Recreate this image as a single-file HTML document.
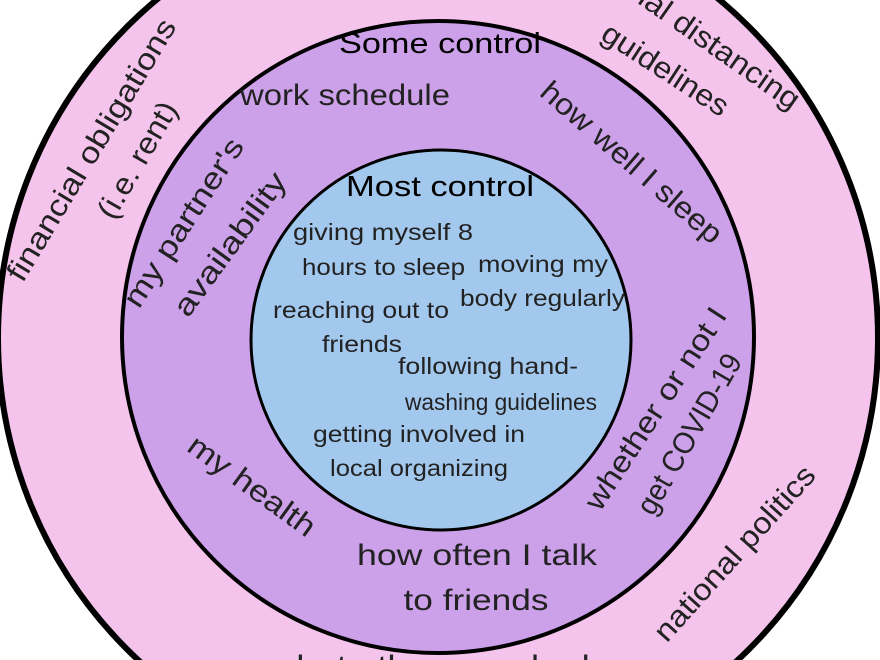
<!DOCTYPE html>
<html><head><meta charset="utf-8"><style>html,body{margin:0;padding:0;background:#fff;width:880px;height:660px;overflow:hidden}svg{display:block}</style></head>
<body>
<svg width="880" height="660" viewBox="0 0 880 660" xmlns="http://www.w3.org/2000/svg" font-family="Liberation Sans, sans-serif" fill="#222" overflow="hidden">
<circle cx="438" cy="338" r="440" fill="#f5c4ec" stroke="#000" stroke-width="6"/>
<circle cx="438" cy="337" r="316" fill="#cda1ea" stroke="#000" stroke-width="4"/>
<circle cx="441" cy="340" r="190" fill="#a3c8ee" stroke="#000" stroke-width="3"/>
<g fill="#000" font-size="29" text-anchor="middle">
<text x="440" y="53" textLength="202" lengthAdjust="spacingAndGlyphs">Some control</text>
<text x="440" y="196" textLength="188" lengthAdjust="spacingAndGlyphs">Most control</text>
</g>
<g font-size="30" text-anchor="middle" fill="#222">
<text x="345" y="105" textLength="210" lengthAdjust="spacingAndGlyphs">work schedule</text>
<text x="477" y="565" textLength="240" lengthAdjust="spacingAndGlyphs">how often I talk</text>
<text x="476" y="610" textLength="145" lengthAdjust="spacingAndGlyphs">to friends</text>
<text transform="translate(192,228) rotate(-57)" textLength="195" lengthAdjust="spacingAndGlyphs">my partner's</text>
<text transform="translate(238,250) rotate(-54)" textLength="170" lengthAdjust="spacingAndGlyphs">availability</text>
<text transform="translate(100,155) rotate(-59)" textLength="300" lengthAdjust="spacingAndGlyphs">financial obligations</text>
<text transform="translate(146,165) rotate(-60)" textLength="130" lengthAdjust="spacingAndGlyphs">(i.e. rent)</text>
<text transform="translate(625,170) rotate(41)" textLength="230" lengthAdjust="spacingAndGlyphs">how well I sleep</text>
<text transform="translate(693,42) rotate(35)" textLength="240" lengthAdjust="spacingAndGlyphs">social distancing</text>
<text transform="translate(660,78) rotate(33)" textLength="145" lengthAdjust="spacingAndGlyphs">guidelines</text>
<text transform="translate(664,414) rotate(-57)" textLength="235" lengthAdjust="spacingAndGlyphs">whether or not I</text>
<text transform="translate(698,439) rotate(-60)" textLength="180" lengthAdjust="spacingAndGlyphs">get COVID-19</text>
<text transform="translate(246,494) rotate(36)" textLength="150" lengthAdjust="spacingAndGlyphs">my health</text>
<text transform="translate(742,560) rotate(-48)" textLength="225" lengthAdjust="spacingAndGlyphs">national politics</text>
<text x="440" y="676" textLength="340" lengthAdjust="spacingAndGlyphs">what other people do</text>
</g>
<g font-size="23" fill="#222">
<text x="293" y="240" textLength="180" lengthAdjust="spacingAndGlyphs">giving myself 8</text>
<text x="302" y="275" textLength="163" lengthAdjust="spacingAndGlyphs">hours to sleep</text>
<text x="478" y="272" textLength="130" lengthAdjust="spacingAndGlyphs">moving my</text>
<text x="460" y="306" textLength="165" lengthAdjust="spacingAndGlyphs">body regularly</text>
<text x="273" y="318" textLength="176" lengthAdjust="spacingAndGlyphs">reaching out to</text>
<text x="322" y="352" textLength="80" lengthAdjust="spacingAndGlyphs">friends</text>
<text x="398" y="374" textLength="180" lengthAdjust="spacingAndGlyphs">following hand-</text>
<text x="405" y="410" textLength="192" lengthAdjust="spacingAndGlyphs">washing guidelines</text>
<text x="313" y="442" textLength="212" lengthAdjust="spacingAndGlyphs">getting involved in</text>
<text x="330" y="476" textLength="178" lengthAdjust="spacingAndGlyphs">local organizing</text>
</g>
</svg>
</body></html>
